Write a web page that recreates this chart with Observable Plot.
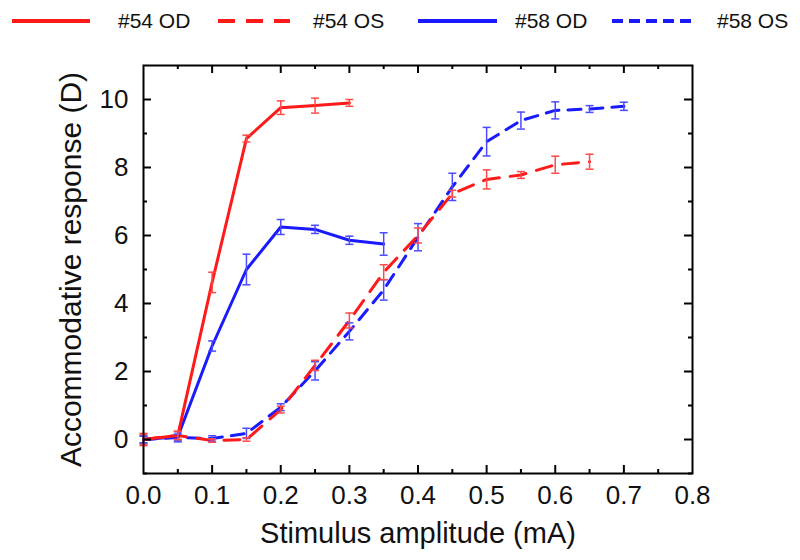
<!DOCTYPE html>
<html>
<head>
<meta charset="utf-8">
<script src="https://cdn.jsdelivr.net/npm/d3@7"></script>
<script src="https://cdn.jsdelivr.net/npm/@observablehq/plot@0.6"></script>
<style>
  html, body { margin: 0; padding: 0; background: #fff; }
  body { width: 800px; height: 560px; overflow: hidden; font-family: "Liberation Sans", Arial, sans-serif; }
  #legend { position: relative; width: 800px; height: 45px; }
  #legend .lab { position: absolute; top: 8px; font-size: 21px; line-height: 26px; color: #111; white-space: nowrap; }
  #legend svg { position: absolute; left: 0; top: 0; }
</style>
</head>
<body>
<div id="legend"></div>
<div id="chart"></div>
<script>
// ---- data ----
const amplitude = [0, 0.05, 0.1, 0.15, 0.2, 0.25, 0.3, 0.35, 0.4, 0.45, 0.5, 0.55, 0.6, 0.65, 0.7];

const od54    = [0.0, 0.12, 4.62, 8.85, 9.76, 9.82, 9.9];
const od54Err = [0.15, 0.12, 0.3, 0.1, 0.2, 0.22, 0.1];

const os54    = [0.0, 0.12, -0.03, 0.0, 0.88, 2.18, 3.5, 4.92, 6.0, 7.23, 7.65, 7.78, 8.08, 8.17];
const os54Err = [0.18, 0.12, 0.05, 0.05, 0.1, 0.15, 0.22, 0.22, 0.22, 0.1, 0.28, 0.1, 0.25, 0.22];

const od58    = [0.0, 0.08, 2.75, 5.0, 6.25, 6.18, 5.86, 5.75];
const od58Err = [0.1, 0.15, 0.15, 0.45, 0.22, 0.12, 0.12, 0.33];

const os58    = [0.0, 0.06, 0.03, 0.18, 0.95, 2.02, 3.18, 4.4, 5.95, 7.43, 8.76, 9.38, 9.68, 9.72, 9.8];
const os58Err = [0.1, 0.1, 0.08, 0.15, 0.1, 0.27, 0.25, 0.3, 0.4, 0.4, 0.42, 0.25, 0.25, 0.1, 0.12];

const seriesNames = ["#54 OD", "#54 OS", "#58 OD", "#58 OS"];
const xTickLabels = [0, 0.1, 0.2, 0.3, 0.4, 0.5, 0.6, 0.7, 0.8];
const xMinorTicks = [0.05, 0.15, 0.25, 0.35, 0.45, 0.55, 0.65, 0.75];
const yTickLabels = [0, 2, 4, 6, 8, 10];
const yMinorTicks = [-1, 1, 3, 5, 7, 9];

// ---- styles ----
const RED = "#ff1a1a", BLUE = "#1a1aff";
const RED_ERR = "#ff4a4a", BLUE_ERR = "#4a4aff";
const styles = {
  "#54 OD": {stroke: RED, err: RED_ERR, dash: null},
  "#54 OS": {stroke: RED, err: RED_ERR, dash: "16,11"},
  "#58 OD": {stroke: BLUE, err: BLUE_ERR, dash: null},
  "#58 OS": {stroke: BLUE, err: BLUE_ERR, dash: "13,9"}
};

function table(name, ys, es) {
  return ys.map((y, i) => ({series: name, x: amplitude[i], y, e: es[i]}));
}
const data = {
  "#54 OD": table("#54 OD", od54, od54Err),
  "#54 OS": table("#54 OS", os54, os54Err),
  "#58 OD": table("#58 OD", od58, od58Err),
  "#58 OS": table("#58 OS", os58, os58Err)
};

// ---- layout ----
const W = 800, H = 515;
const mT = 20, mB = 87, mL = 143, mR = 108;
const plotW = W - mL - mR, plotH = H - mT - mB;
const majorLen = 8, minorLen = 4;

// horizontal cap symbol for error bars
const capSymbol = {
  draw(ctx, size) {
    const r = Math.sqrt(size / Math.PI);
    ctx.moveTo(-r, 0);
    ctx.lineTo(r, 0);
  }
};

const drawOrder = ["#58 OS", "#54 OS", "#58 OD", "#54 OD"];
const marks = [];

for (const name of drawOrder) {
  const s = styles[name];
  const d = data[name];
  marks.push(Plot.line(d, {x: "x", y: "y", stroke: s.stroke, strokeWidth: 3, strokeDasharray: s.dash, strokeLinecap: "round"}));
}
for (const name of drawOrder) {
  const s = styles[name];
  const d = data[name];
  marks.push(Plot.ruleX(d, {x: "x", y1: p => p.y - p.e, y2: p => p.y + p.e, stroke: s.err, strokeWidth: 1.5}));
  marks.push(Plot.dot(d, {x: "x", y: p => p.y - p.e, symbol: capSymbol, r: 4, stroke: s.err, strokeWidth: 1.5, fill: "none"}));
  marks.push(Plot.dot(d, {x: "x", y: p => p.y + p.e, symbol: capSymbol, r: 4, stroke: s.err, strokeWidth: 1.5, fill: "none"}));
}

// inward ticks on all four sides
marks.push(Plot.ruleX(xTickLabels.slice(1, -1), {x: d => d, insetTop: plotH - majorLen, stroke: "#000", strokeWidth: 2}));
marks.push(Plot.ruleX(xTickLabels.slice(1, -1), {x: d => d, insetBottom: plotH - majorLen, stroke: "#000", strokeWidth: 2}));
marks.push(Plot.ruleX(xMinorTicks, {x: d => d, insetTop: plotH - minorLen, stroke: "#000", strokeWidth: 2}));
marks.push(Plot.ruleX(xMinorTicks, {x: d => d, insetBottom: plotH - minorLen, stroke: "#000", strokeWidth: 2}));
marks.push(Plot.ruleY(yTickLabels, {y: d => d, insetRight: plotW - majorLen, stroke: "#000", strokeWidth: 2}));
marks.push(Plot.ruleY(yTickLabels, {y: d => d, insetLeft: plotW - majorLen, stroke: "#000", strokeWidth: 2}));
marks.push(Plot.ruleY(yMinorTicks, {y: d => d, insetRight: plotW - minorLen, stroke: "#000", strokeWidth: 2}));
marks.push(Plot.ruleY(yMinorTicks, {y: d => d, insetLeft: plotW - minorLen, stroke: "#000", strokeWidth: 2}));

marks.push(Plot.frame({stroke: "#000", strokeWidth: 2}));

marks.push(Plot.axisX({ticks: xTickLabels, tickSize: 0, tickPadding: 12, tickFormat: d3.format(".1f"), fontSize: 26, label: null}));
marks.push(Plot.axisY({ticks: yTickLabels, tickSize: 0, tickPadding: 15, tickFormat: d3.format("d"), fontSize: 26, label: null}));

marks.push(Plot.text(["Stimulus amplitude (mA)"], {frameAnchor: "bottom", dy: 60, lineAnchor: "middle", textAnchor: "middle", fontSize: 29, fill: "#111"}));
marks.push(Plot.text(["Accommodative response (D)"], {frameAnchor: "left", dx: -72, rotate: -90, lineAnchor: "middle", textAnchor: "middle", fontSize: 30, fill: "#111"}));

const chart = Plot.plot({
  width: W,
  height: H,
  marginTop: mT,
  marginBottom: mB,
  marginLeft: mL,
  marginRight: mR,
  x: {domain: [0, 0.8]},
  y: {domain: [-1, 11]},
  style: {fontFamily: "Liberation Sans, Arial, sans-serif", color: "#111", background: "#fff", overflow: "visible"},
  marks
});
document.getElementById("chart").appendChild(chart);

// ---- legend (HTML above the SVG) ----
const legendItems = [
  {name: seriesNames[0], x1: 12, x2: 90, tx: 118},
  {name: seriesNames[1], x1: 218, x2: 290, tx: 313},
  {name: seriesNames[2], x1: 418, x2: 497, tx: 515},
  {name: seriesNames[3], x1: 612, x2: 694, tx: 717}
];
const legend = document.getElementById("legend");
const ns = "http://www.w3.org/2000/svg";
const lsvg = document.createElementNS(ns, "svg");
lsvg.setAttribute("width", 800);
lsvg.setAttribute("height", 45);
for (const it of legendItems) {
  const s = styles[it.name];
  const ln = document.createElementNS(ns, "line");
  ln.setAttribute("x1", it.x1); ln.setAttribute("x2", it.x2);
  ln.setAttribute("y1", 21); ln.setAttribute("y2", 21);
  ln.setAttribute("stroke", s.stroke);
  ln.setAttribute("stroke-width", 4);
  if (it.name === "#54 OS") ln.setAttribute("stroke-dasharray", "17,11");
  if (it.name === "#58 OS") ln.setAttribute("stroke-dasharray", "11,6");
  lsvg.appendChild(ln);
  const t = document.createElement("div");
  t.className = "lab";
  t.style.left = it.tx + "px";
  t.textContent = it.name;
  legend.appendChild(t);
}
legend.appendChild(lsvg);
</script>
</body>
</html>
